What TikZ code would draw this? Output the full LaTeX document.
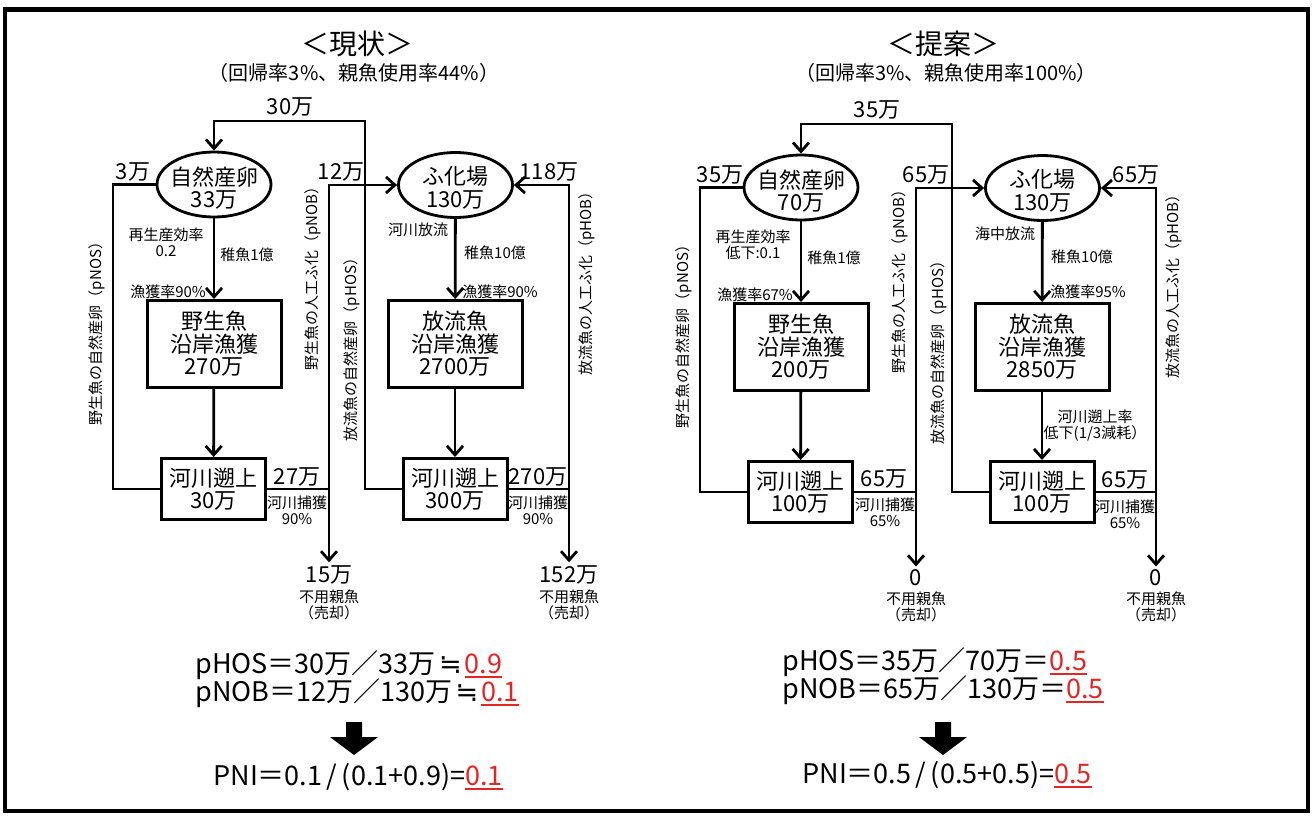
\documentclass[tikz,border=0pt]{standalone}
\usepackage{fontspec}
\setmainfont{Noto Sans CJK JP}
\newfontfamily\symfont{DejaVu Sans}
\usetikzlibrary{arrows.meta,positioning,shapes.geometric}
\definecolor{valred}{RGB}{226,38,38}
\newcommand{\redval}[1]{\textcolor{valred}{\setbox0\hbox{#1}\rlap{\rule[-2.2pt]{\wd0}{0.9pt}}\box0}}
\newcommand{\approxeq}{\hspace{0.12em}{\symfont ≒}\hspace{0.12em}}

\begin{document}
\begin{tikzpicture}[x=0.5pt,y=-0.5pt,
  every node/.style={inner sep=0pt},
  flow/.style={line width=1.4pt,-{Straight Barb[length=4.5pt,width=8pt]}},
  wire/.style={line width=1.4pt},
  pool/.style={ellipse,draw,line width=1.4pt,minimum width=57pt,minimum height=32.5pt},
  stock/.style={draw,line width=1.5pt,minimum width=67pt,minimum height=43.5pt},
  run/.style={draw,line width=1.5pt,minimum width=52pt,minimum height=30.5pt},
  big/.style={align=center,font=\fontsize{11}{11.3}\selectfont},
  num/.style={inner sep=1.5pt,font=\fontsize{11}{12}\selectfont},
  note/.style={align=center,font=\fontsize{7.5}{8}\selectfont},
  side/.style={rotate=90,font=\fontsize{7.5}{8}\selectfont},
  formula/.style={anchor=west,font=\fontsize{13.5}{14}\selectfont}]
\useasboundingbox (0,0) rectangle (1313,815);
\draw[line width=2.3pt] (5,9.5) rectangle (1308,811);

\node[font=\fontsize{14}{14}\selectfont] (now-title) at (357,44) {＜現状＞};
\node[font=\fontsize{10}{10}\selectfont] (now-sub) at (354,73) {（回帰率3\%、親魚使用率44\%）};
\node[font=\fontsize{14}{14}\selectfont] (plan-title) at (943,44) {＜提案＞};
\node[font=\fontsize{10}{10}\selectfont] (plan-sub) at (946,73) {（回帰率3\%、親魚使用率100\%）};

\begin{scope}
  \node[pool] (now-egg) at (214,184.5) {};
  \node[big] at (214,188) {自然産卵\\33万};
  \node[pool] (now-hat) at (455.5,185) {};
  \node[big] at (455.5,188) {ふ化場\\130万};
  \node[stock,big] (now-wcat) at (214,344) {野生魚\\沿岸漁獲\\270万};
  \node[stock,big] (now-hcat) at (455,344) {放流魚\\沿岸漁獲\\2700万};
  \node[run,big] (now-wrun) at (213.5,489) {河川遡上\\30万};
  \node[run,big] (now-hrun) at (455,489) {河川遡上\\300万};
  \node[num] (now-wsell) at (329,575) {15万};
  \node[note,below=1pt of now-wsell] {不用親魚\\（売却）};
  \node[num] (now-hsell) at (569,575) {152万};
  \node[note,below=1pt of now-hsell] {不用親魚\\（売却）};
  \coordinate (now-k1) at (365,121);
  \coordinate (now-k2) at (113,184.5);
  \coordinate (now-k3) at (329,185);
  \coordinate (now-k4) at (569,185);
  \draw[flow] (now-egg) -- (now-wcat);
  \draw[flow] (now-wcat) -- (now-wrun);
  \draw[flow] (now-hat) -- (now-hcat);
  \draw[flow] (now-hcat) -- (now-hrun);
  \draw[flow] (now-hrun.west) -| (now-k1) -| (now-egg.north);
  \draw[wire] (now-wrun.west) -| (now-k2) -- (now-egg.west);
  \draw[flow] (now-wrun.east) -| (now-k3) -- (now-hat.west);
  \draw[flow] (now-wrun.east -| now-k3) -- (now-wsell.north);
  \draw[flow] (now-hrun.east) -| (now-k4) -- (now-hat.east);
  \draw[flow] (now-hrun.east -| now-k4) -- (now-hsell.north);
  \node[num] at (290,107) {30万};
  \node[num] at (133,172) {3万};
  \node[num] at (341,172) {12万};
  \node[num] at (549,172) {118万};
  \node[num] at (297,477) {27万};
  \node[num] at (538,477) {270万};
  \node[note] at (297,510) {河川捕獲\\90\%};
  \node[note] at (538,510) {河川捕獲\\90\%};
  \node[note] at (166,242) {再生産効率\\0.2};
  \node[note] at (247,255) {稚魚1億};
  \node[note] at (168,292) {漁獲率90\%};
  \node[note] at (418,230) {河川放流};
  \node[note] at (495,253) {稚魚10億};
  \node[note] at (500,292) {漁獲率90\%};
  \node[side] at (97,330) {野生魚の自然産卵（pNOS）};
  \node[side] at (313,275) {野生魚の人工ふ化（pNOB）};
  \node[side] at (352,346) {放流魚の自然産卵（pHOS）};
  \node[side] at (587,280) {放流魚の人工ふ化（pHOB）};
\end{scope}

\begin{scope}[shift={(587,3)}]
  \node[pool] (plan-egg) at (214,184.5) {};
  \node[big] at (214,188) {自然産卵\\70万};
  \node[pool] (plan-hat) at (455.5,185) {};
  \node[big] at (455.5,188) {ふ化場\\130万};
  \node[stock,big] (plan-wcat) at (214,344) {野生魚\\沿岸漁獲\\200万};
  \node[stock,big] (plan-hcat) at (455,344) {放流魚\\沿岸漁獲\\2850万};
  \node[run,big] (plan-wrun) at (213.5,489) {河川遡上\\100万};
  \node[run,big] (plan-hrun) at (455,489) {河川遡上\\100万};
  \node[num] (plan-wsell) at (329,575) {0};
  \node[note,below=1pt of plan-wsell] {不用親魚\\（売却）};
  \node[num] (plan-hsell) at (569,575) {0};
  \node[note,below=1pt of plan-hsell] {不用親魚\\（売却）};
  \coordinate (plan-k1) at (365,121);
  \coordinate (plan-k2) at (113,184.5);
  \coordinate (plan-k3) at (329,185);
  \coordinate (plan-k4) at (569,185);
  \draw[flow] (plan-egg) -- (plan-wcat);
  \draw[flow] (plan-wcat) -- (plan-wrun);
  \draw[flow] (plan-hat) -- (plan-hcat);
  \draw[flow] (plan-hcat) -- (plan-hrun);
  \draw[flow] (plan-hrun.west) -| (plan-k1) -| (plan-egg.north);
  \draw[wire] (plan-wrun.west) -| (plan-k2) -- (plan-egg.west);
  \draw[flow] (plan-wrun.east) -| (plan-k3) -- (plan-hat.west);
  \draw[flow] (plan-wrun.east -| plan-k3) -- (plan-wsell.north);
  \draw[flow] (plan-hrun.east) -| (plan-k4) -- (plan-hat.east);
  \draw[flow] (plan-hrun.east -| plan-k4) -- (plan-hsell.north);
  \node[num] at (290,107) {35万};
  \node[num] at (133,172) {35万};
  \node[num] at (339,172) {65万};
  \node[num] at (549,172) {65万};
  \node[num] at (297,476) {65万};
  \node[num] at (538,477) {65万};
  \node[note] at (298,509) {河川捕獲\\65\%};
  \node[note] at (538,511) {河川捕獲\\65\%};
  \node[note] at (166,242) {再生産効率\\低下:0.1};
  \node[note] at (247,255) {稚魚1億};
  \node[note] at (168,292) {漁獲率67\%};
  \node[note] at (418,231) {海中放流};
  \node[note] at (495,254) {稚魚10億};
  \node[note] at (501,289) {漁獲率95\%};
  \node[note] at (508,423) {河川遡上率\\低下(1/3減耗）};
  \node[side] at (97,330) {野生魚の自然産卵（pNOS）};
  \node[side] at (313,275) {野生魚の人工ふ化（pNOB）};
  \node[side] at (352,346) {放流魚の自然産卵（pHOS）};
  \node[side] at (587,280) {放流魚の人工ふ化（pHOB）};
\end{scope}

\node[formula] (now-phos) at (195,665) {pHOS＝30万／33万\approxeq\redval{0.9}};
\node[formula] (now-pnob) at (195,693) {pNOB＝12万／130万\approxeq\redval{0.1}};
\fill (346,722) -- (362,722) -- (362,737) -- (378,737) -- (354,755) -- (330,737) -- (346,737) -- cycle;
\node[formula] (now-pni) at (213,777) {PNI＝0.1\,/\,(0.1+0.9)=\redval{0.1}};
\node[formula] (plan-phos) at (782,662) {pHOS＝35万／70万＝\redval{0.5}};
\node[formula] (plan-pnob) at (782,690) {pNOB＝65万／130万＝\redval{0.5}};
\fill (935,722) -- (951,722) -- (951,737) -- (967,737) -- (943,755) -- (919,737) -- (935,737) -- cycle;
\node[formula] (plan-pni) at (802,775) {PNI＝0.5\,/\,(0.5+0.5)=\redval{0.5}};
\end{tikzpicture}
\end{document}
